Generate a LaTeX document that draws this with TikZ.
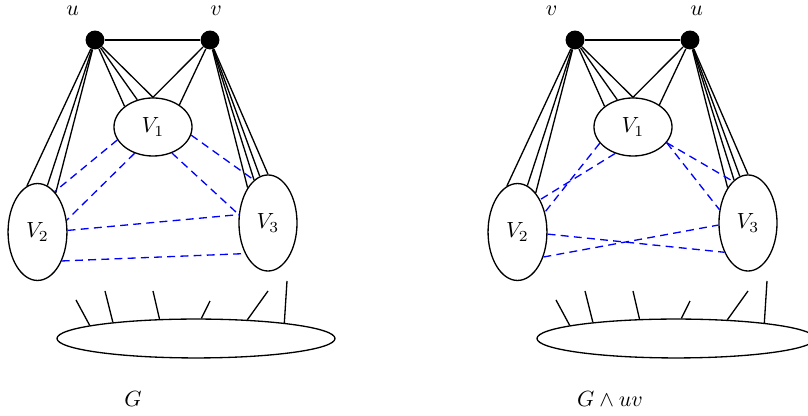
\documentclass[tikz,border=0pt]{standalone}
\usetikzlibrary{shapes.geometric}
\begin{document}
\begin{tikzpicture}[x=0.455pt,y=-0.455pt,
  dot/.style={circle,fill=black,inner sep=0pt,minimum size=8.6pt},
  setA/.style={ellipse,draw,line width=0.6pt,inner sep=0pt,minimum width=35.5pt,minimum height=26.4pt},
  setB/.style={ellipse,draw,line width=0.6pt,inner sep=0pt,minimum width=26.8pt,minimum height=44.1pt},
  setC/.style={ellipse,draw,line width=0.6pt,inner sep=0pt,minimum width=26.4pt,minimum height=43.7pt},
  base/.style={ellipse,draw,line width=0.6pt,inner sep=0pt,minimum width=126.5pt,minimum height=17.7pt},
  edge/.style={line width=0.6pt},
  blueedge/.style={blue,line width=0.6pt,dash pattern=on 3.6pt off 2.4pt},
  lbl/.style={inner sep=0pt}]
\useasboundingbox (0,0) rectangle (808,416);
\clip (0,0) rectangle (808,416);

% ---------------- left panel: G ----------------
\node[dot] (u) at (95,40) {};
\node[dot] (v) at (210,40) {};
\node[lbl] (lu) at (72.7,10.5) {$u$};
\node[lbl] (lv) at (216,10.5) {$v$};
\node[setA] (V1) at (153,127) {$V_1$};
\node[setB] (V2) at (37.5,232) {$V_2$};
\node[setC] (V3) at (268,223) {$V_3$};
\node[base] (B) at (196,338.5) {};
\node[lbl] (lG) at (133,399) {$G$};

\draw[edge] (u) -- (v);
\foreach \a in {103.7,78.5,65.8} \draw[edge] (u) -- (V2.\a);
\foreach \a in {144.7,120,90} \draw[edge] (u) -- (V1.\a);
\foreach \a in {90,40.9} \draw[edge] (v) -- (V1.\a);
\foreach \a in {120,108,100,90} \draw[edge] (v) -- (V3.\a);

\draw[blueedge] (V1.200) -- (V2.67);
\draw[blueedge] (V1.235) -- (V2.22.8);
\draw[blueedge] (V1.348) -- (V3.108);
\draw[blueedge] (V1.306) -- (V3.164.4);
\draw[blueedge] (V2.3.9) -- (V3.164.4);
\draw[blueedge] (V2.310) -- (V3.233);

\coordinate (t1) at (76,300);
\coordinate (t2) at (105,291);
\coordinate (t3) at (153,291);
\coordinate (t4) at (210,301);
\coordinate (t5) at (268,291);
\coordinate (t6) at (287,281);
\draw[edge] (t1) -- (B.173.5);
\draw[edge] (t2) -- (B.169.7);
\draw[edge] (t3) -- (B.152.4);
\draw[edge] (t4) -- (B.75.6);
\draw[edge] (t5) -- (B.20.4);
\draw[edge] (t6) -- (B.10.5);

% ---------------- right panel: G wedge uv ----------------
\begin{scope}[shift={(480,0)}]
\node[dot] (rv) at (95,40) {};
\node[dot] (ru) at (210,40) {};
\node[lbl] (lrv) at (71.7,10.5) {$v$};
\node[lbl] (lru) at (216.7,10.5) {$u$};
\node[setA] (W1) at (153,127) {$V_1$};
\node[setB] (W2) at (37.5,232) {$V_2$};
\node[setC] (W3) at (268,223) {$V_3$};
\node[base] (C) at (196,338.5) {};
\node[lbl] (lGuv) at (130,399) {$G\wedge uv$};

\draw[edge] (rv) -- (ru);
\foreach \a in {103.7,78.5,65.8} \draw[edge] (rv) -- (W2.\a);
\foreach \a in {144.7,120,90} \draw[edge] (rv) -- (W1.\a);
\foreach \a in {90,40.9} \draw[edge] (ru) -- (W1.\a);
\foreach \a in {120,108,100,90} \draw[edge] (ru) -- (W3.\a);

\draw[blueedge] (W1.206) -- (W2.36.6);
\draw[blueedge] (W1.236.4) -- (W2.55.3);
\draw[blueedge] (W1.335.8) -- (W3.110.2);
\draw[blueedge] (W1.335.8) -- (W3.155);
\draw[blueedge] (W2.356) -- (W3.231.5);
\draw[blueedge] (W2.316.8) -- (W3.184);

\coordinate (s1) at (76,300);
\coordinate (s2) at (105,291);
\coordinate (s3) at (153,291);
\coordinate (s4) at (210,301);
\coordinate (s5) at (268,291);
\coordinate (s6) at (287,281);
\draw[edge] (s1) -- (C.173.5);
\draw[edge] (s2) -- (C.169.7);
\draw[edge] (s3) -- (C.152.4);
\draw[edge] (s4) -- (C.75.6);
\draw[edge] (s5) -- (C.20.4);
\draw[edge] (s6) -- (C.10.5);
\end{scope}
\end{tikzpicture}
\end{document}
